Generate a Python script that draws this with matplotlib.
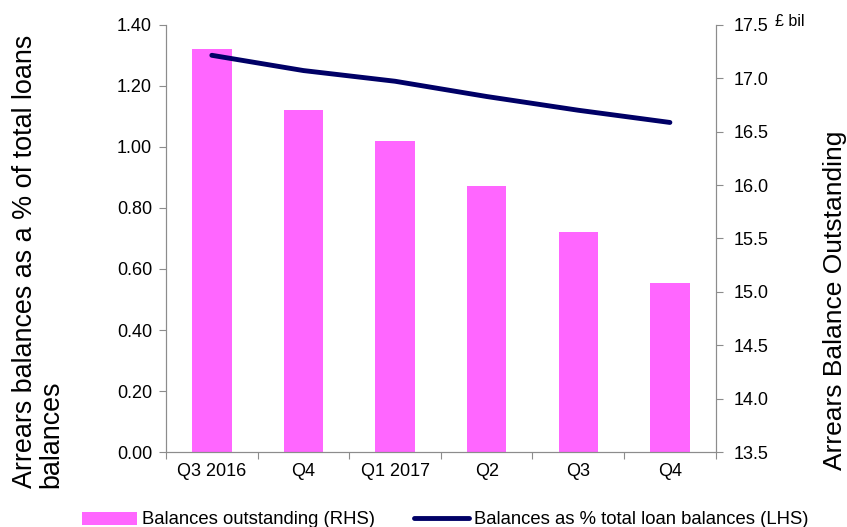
import numpy as np
import matplotlib
matplotlib.use('Agg')
import matplotlib.pyplot as plt

plt.rcParams['font.family'] = ['Liberation Sans', 'DejaVu Sans']

# данные
quarters = ['Q3 2016', 'Q4', 'Q1 2017', 'Q2', 'Q3', 'Q4']
balances_outstanding = [17.27, 16.70, 16.41, 15.99, 15.56, 15.08]   # £ bil, RHS
balances_pct = [1.30, 1.25, 1.215, 1.165, 1.12, 1.08]               # %, LHS

bar_color = '#FF66FF'
line_color = '#000066'
spine_color = '#8C8C8C'
rhs_base = 13.5

fig = plt.figure(figsize=(8.47, 5.27), dpi=100)
ax = fig.add_axes([0.196, 0.142, 0.649, 0.811])
ax2 = ax.twinx()

x = np.arange(len(quarters))

# столбцы на правой оси
bars = ax2.bar(x, np.array(balances_outstanding) - rhs_base, width=0.43,
               bottom=rhs_base, color=bar_color,
               label='Balances outstanding (RHS)')
ax2.set_ylim(13.5, 17.5)
rticks = np.arange(13.5, 17.51, 0.5)
ax2.set_yticks(rticks)
ax2.set_yticklabels(['%.1f' % v for v in rticks])

# линия на левой оси, поверх столбцов
ax.set_zorder(ax2.get_zorder() + 1)
ax.patch.set_visible(False)
line, = ax.plot(x, balances_pct, color=line_color, linewidth=3.5,
                solid_capstyle='round',
                label='Balances as % total loan balances (LHS)')
ax.set_ylim(0, 1.40)
lticks = np.arange(0, 1.41, 0.2)
ax.set_yticks(lticks)
ax.set_yticklabels(['%.2f' % v for v in lticks])

ax.set_xlim(-0.5, len(quarters) - 0.5)
ax.set_xticks(np.arange(-0.5, len(quarters)))
ax.set_xticklabels([])
ax.set_xticks(x, minor=True)
ax.set_xticklabels(quarters, minor=True)
ax.tick_params(axis='x', which='minor', length=0, pad=8, labelsize=13)
ax.tick_params(axis='x', which='major', length=5, color=spine_color)

for a in (ax, ax2):
    for s in a.spines.values():
        s.set_color(spine_color)
    a.spines['top'].set_visible(False)
    a.tick_params(axis='y', length=5, color=spine_color, labelsize=13)
ax.tick_params(axis='y', pad=5)
ax2.tick_params(axis='y', pad=8)

# подписи осей
fig.text(0.045, 0.074, 'Arrears balances as a % of total loans\nbalances',
         rotation=90, fontsize=19.4, ha='center', va='bottom',
         multialignment='left', linespacing=1.05)
fig.text(0.986, 0.431, 'Arrears Balance Outstanding', rotation=90,
         fontsize=19, ha='center', va='center')
fig.text(0.915, 0.945, '£ bil', fontsize=11.5, ha='left', va='bottom')

fig.legend(handles=[bars, line], loc='center left', ncol=2, frameon=False,
           fontsize=13.3, handlelength=3.0, handletextpad=0.25,
           columnspacing=2.1, borderpad=0, borderaxespad=0,
           bbox_to_anchor=(82 / 847, 1 - 520 / 527))

fig.savefig('out.png', dpi=100)
